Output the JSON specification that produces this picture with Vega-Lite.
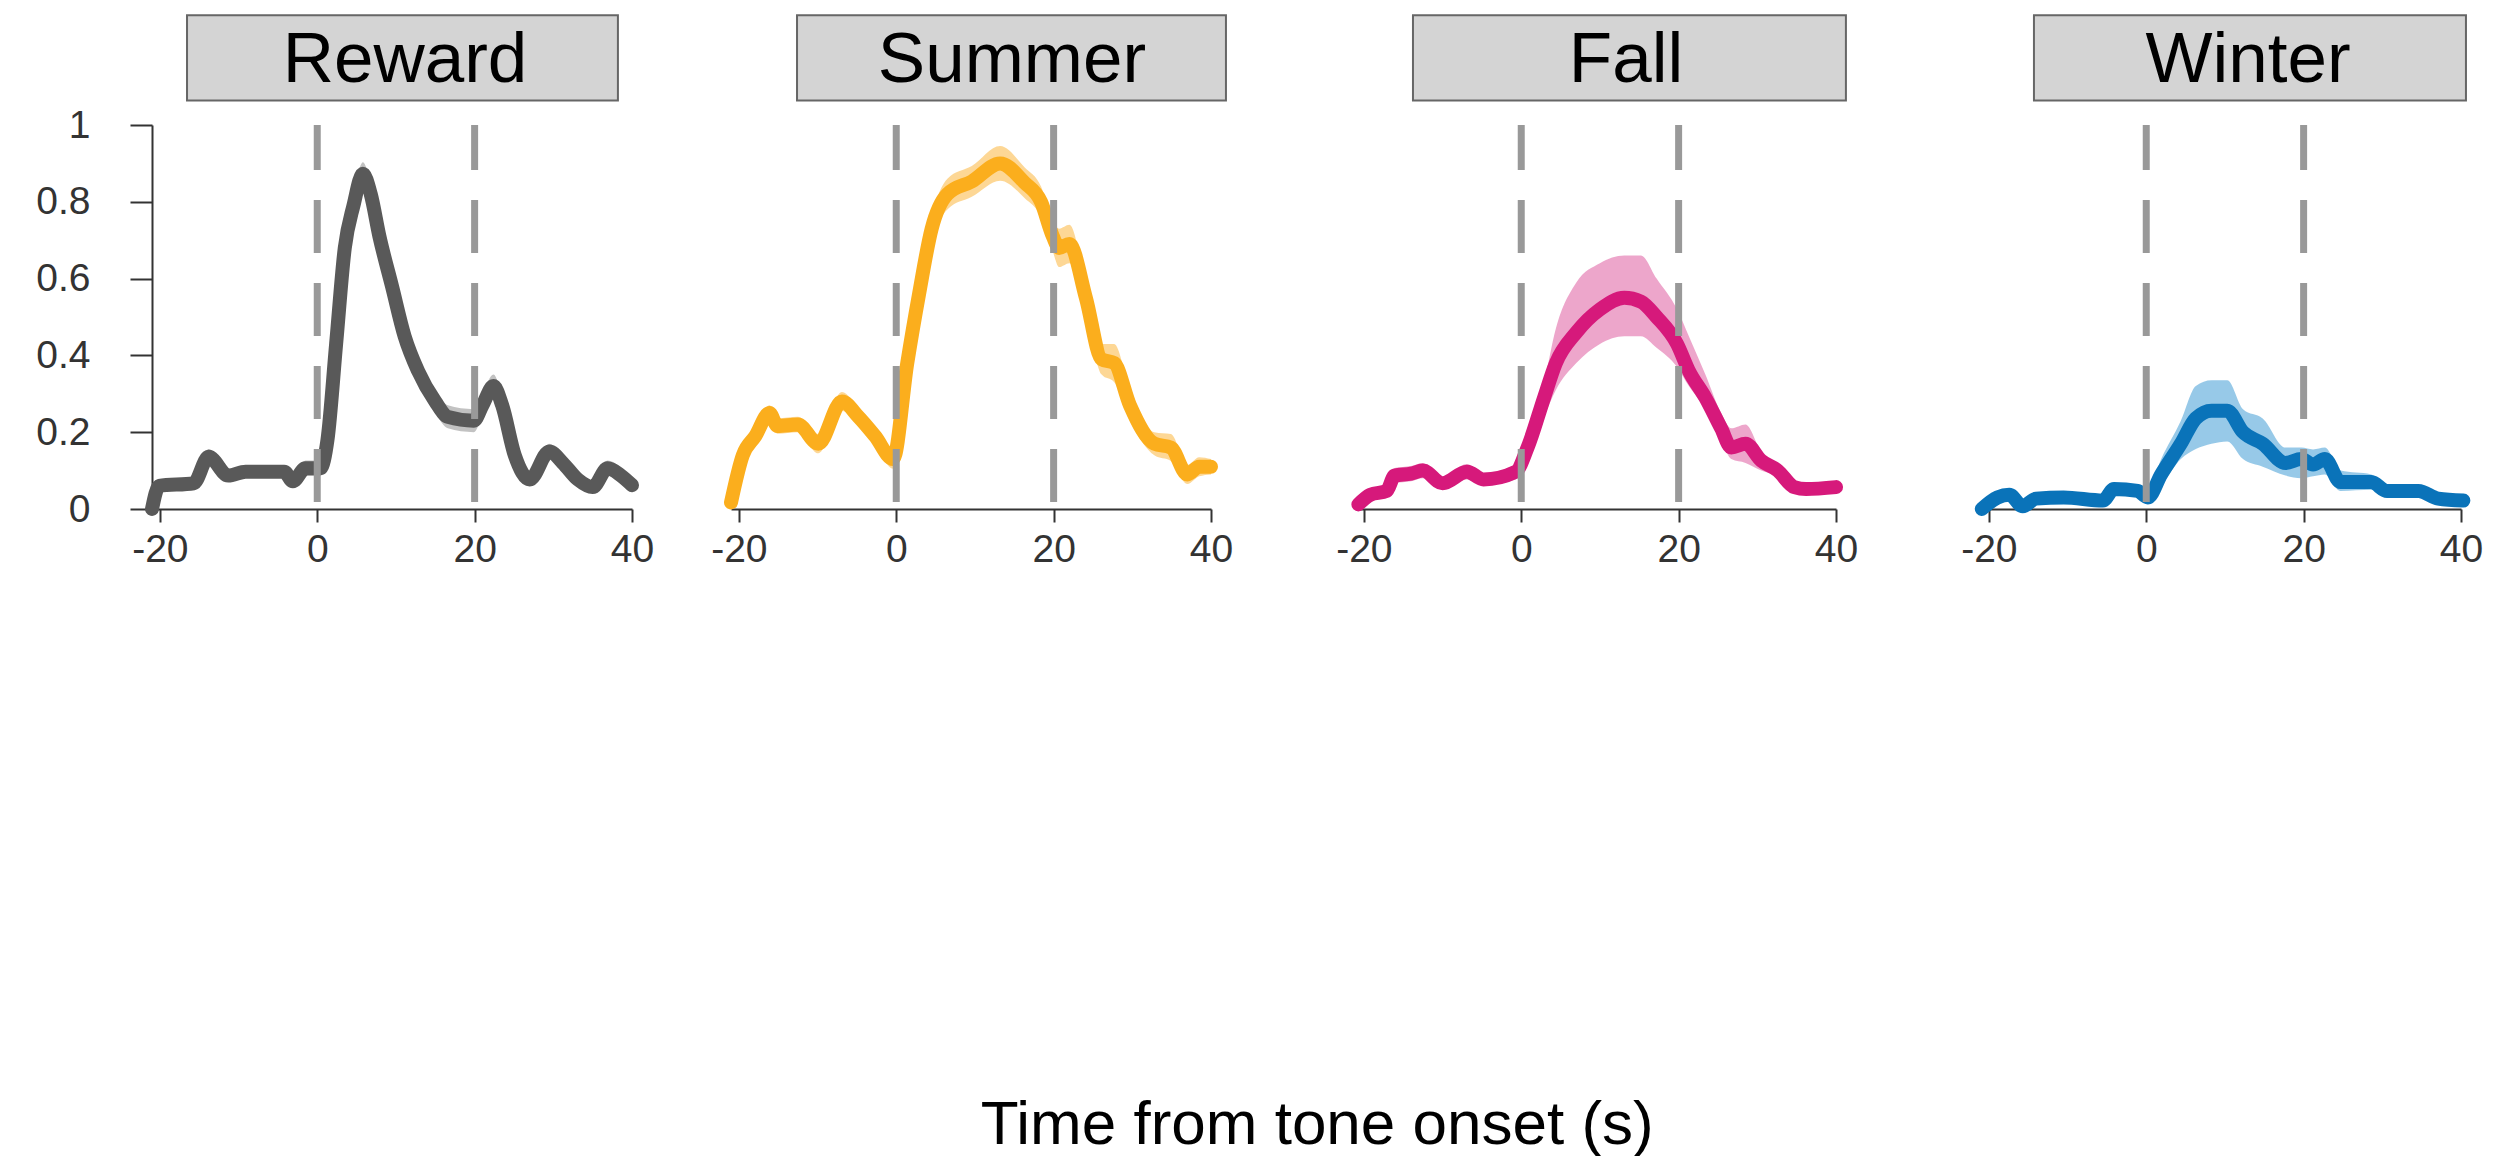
{
  "$schema": "https://vega.github.io/schema/vega-lite/v6.json",
  "background": "white",
  "padding": {"left": 35, "top": 14, "right": 4, "bottom": 0},
  "title": {
    "text": "Time from tone onset (s)",
    "orient": "bottom",
    "anchor": "middle",
    "fontSize": 62,
    "font": "Liberation Sans",
    "fontWeight": "normal",
    "color": "#000000",
    "offset": 526,
    "dx": 58
  },
  "spacing": 99,
  "bounds": "flush",
  "hconcat": [
    {
      "width": 480, "height": 384,
      "data": {"values": [
        {"p":"Reward","t":-21,"v":0,"lo":0,"hi":0.01},
        {"p":"Reward","t":-20.1,"v":0.06,"lo":0.045,"hi":0.075},
        {"p":"Reward","t":-15.7,"v":0.067,"lo":0.052,"hi":0.082},
        {"p":"Reward","t":-13.8,"v":0.136,"lo":0.116,"hi":0.156},
        {"p":"Reward","t":-11.3,"v":0.087,"lo":0.072,"hi":0.102},
        {"p":"Reward","t":-9.1,"v":0.097,"lo":0.082,"hi":0.112},
        {"p":"Reward","t":-4.2,"v":0.097,"lo":0.082,"hi":0.112},
        {"p":"Reward","t":-3.1,"v":0.072,"lo":0.057,"hi":0.087},
        {"p":"Reward","t":-1.5,"v":0.106,"lo":0.086,"hi":0.126},
        {"p":"Reward","t":0.4,"v":0.106,"lo":0.086,"hi":0.126},
        {"p":"Reward","t":1.3,"v":0.18,"lo":0.16,"hi":0.2},
        {"p":"Reward","t":2.4,"v":0.43,"lo":0.41,"hi":0.45},
        {"p":"Reward","t":3.5,"v":0.68,"lo":0.66,"hi":0.7},
        {"p":"Reward","t":4.6,"v":0.79,"lo":0.765,"hi":0.815},
        {"p":"Reward","t":5.8,"v":0.873,"lo":0.843,"hi":0.903},
        {"p":"Reward","t":6.8,"v":0.82,"lo":0.795,"hi":0.845},
        {"p":"Reward","t":7.9,"v":0.71,"lo":0.69,"hi":0.73},
        {"p":"Reward","t":9.5,"v":0.58,"lo":0.56,"hi":0.6},
        {"p":"Reward","t":11.1,"v":0.45,"lo":0.425,"hi":0.475},
        {"p":"Reward","t":12.8,"v":0.36,"lo":0.33,"hi":0.39},
        {"p":"Reward","t":15.0,"v":0.28,"lo":0.25,"hi":0.31},
        {"p":"Reward","t":16.6,"v":0.24,"lo":0.21,"hi":0.27},
        {"p":"Reward","t":19.9,"v":0.23,"lo":0.2,"hi":0.26},
        {"p":"Reward","t":21.0,"v":0.27,"lo":0.24,"hi":0.3},
        {"p":"Reward","t":22.4,"v":0.32,"lo":0.29,"hi":0.35},
        {"p":"Reward","t":23.5,"v":0.27,"lo":0.25,"hi":0.29},
        {"p":"Reward","t":25.1,"v":0.14,"lo":0.12,"hi":0.16},
        {"p":"Reward","t":27.0,"v":0.077,"lo":0.062,"hi":0.092},
        {"p":"Reward","t":29.5,"v":0.15,"lo":0.13,"hi":0.17},
        {"p":"Reward","t":31.2,"v":0.12,"lo":0.105,"hi":0.135},
        {"p":"Reward","t":33.1,"v":0.077,"lo":0.062,"hi":0.092},
        {"p":"Reward","t":35.0,"v":0.057,"lo":0.042,"hi":0.072},
        {"p":"Reward","t":36.9,"v":0.106,"lo":0.086,"hi":0.126},
        {"p":"Reward","t":38.6,"v":0.087,"lo":0.067,"hi":0.107},
        {"p":"Reward","t":40,"v":0.062,"lo":0.047,"hi":0.077}
      ]},
      "layer": [
        {
          "data": {"values": [{"label": "Reward"}]},
          "mark": {"type": "rect", "fill": "#d4d4d4", "stroke": "#666666", "strokeWidth": 2},
          "encoding": {
            "x": {"datum": -16.55, "type": "quantitative", "scale": {"domain": [-21, 40], "nice": false, "zero": false}, "axis": {"values": [-20, 0, 20, 40], "title": null, "labelExpr": "datum.value < 0 ? '-' + abs(datum.value) : '' + datum.value"}},
            "x2": {"datum": 38.21},
            "y": {"datum": 1.2857, "type": "quantitative", "scale": {"domain": [0, 1], "nice": false}, "axis": {"values": [0, 0.2, 0.4, 0.6, 0.8, 1], "format": "~g", "title": null, "tickSize": 22, "labelPadding": 40}},
            "y2": {"datum": 1.0637}
          }
        },
        {
          "data": {"values": [{"label": "Reward"}]},
          "mark": {"type": "text", "fontSize": 71, "font": "Liberation Sans", "baseline": "middle", "align": "center", "color": "#000000"},
          "encoding": {
            "x": {"datum": 11.15, "type": "quantitative", "axis": {"values": [-20, 0, 20, 40], "title": null, "labelExpr": "datum.value < 0 ? '-' + abs(datum.value) : '' + datum.value"}},
            "y": {"datum": 1.166, "type": "quantitative", "axis": {"values": [0, 0.2, 0.4, 0.6, 0.8, 1], "format": "~g", "title": null, "tickSize": 22, "labelPadding": 40}},
            "text": {"field": "label"}
          }
        },
        {
          "mark": {"type": "area", "color": "#9a9a9a", "opacity": 0.6, "interpolate": "monotone"},
          "encoding": {
            "x": {"field": "t", "type": "quantitative", "axis": {"values": [-20, 0, 20, 40], "title": null, "labelExpr": "datum.value < 0 ? '-' + abs(datum.value) : '' + datum.value"}},
            "y": {"field": "lo", "type": "quantitative", "axis": {"values": [0, 0.2, 0.4, 0.6, 0.8, 1], "format": "~g", "title": null, "tickSize": 22, "labelPadding": 40}},
            "y2": {"field": "hi"}
          }
        },
        {
          "mark": {"type": "line", "color": "#595959", "strokeWidth": 14, "strokeCap": "round", "strokeJoin": "round", "interpolate": "monotone"},
          "encoding": {
            "x": {"field": "t", "type": "quantitative", "axis": {"values": [-20, 0, 20, 40], "title": null, "labelExpr": "datum.value < 0 ? '-' + abs(datum.value) : '' + datum.value"}},
            "y": {"field": "v", "type": "quantitative", "axis": {"values": [0, 0.2, 0.4, 0.6, 0.8, 1], "format": "~g", "title": null, "tickSize": 22, "labelPadding": 40}}
          }
        },
        {
          "data": {"values": [{"k": 1}]},
          "mark": {"type": "rule", "color": "#999999", "strokeWidth": 7, "strokeDash": [53, 30], "strokeDashOffset": 8},
          "encoding": {"x": {"datum": 0, "type": "quantitative", "axis": {"values": [-20, 0, 20, 40], "title": null, "labelExpr": "datum.value < 0 ? '-' + abs(datum.value) : '' + datum.value"}}}
        },
        {
          "data": {"values": [{"k": 1}]},
          "mark": {"type": "rule", "color": "#999999", "strokeWidth": 7, "strokeDash": [53, 30], "strokeDashOffset": 8},
          "encoding": {"x": {"datum": 20, "type": "quantitative", "axis": {"values": [-20, 0, 20, 40], "title": null, "labelExpr": "datum.value < 0 ? '-' + abs(datum.value) : '' + datum.value"}}}
        }
      ]
    },
    {
      "spacing": 145,
      "bounds": "flush",
      "hconcat": [
        {
          "width": 480, "height": 384,
          "data": {"values": [
            {"p":"Summer","t":-21,"v":0.017,"lo":0.007,"hi":0.027},
            {"p":"Summer","t":-19.5,"v":0.14,"lo":0.125,"hi":0.155},
            {"p":"Summer","t":-17.9,"v":0.19,"lo":0.175,"hi":0.205},
            {"p":"Summer","t":-16.1,"v":0.25,"lo":0.23,"hi":0.27},
            {"p":"Summer","t":-15.1,"v":0.216,"lo":0.196,"hi":0.236},
            {"p":"Summer","t":-12.5,"v":0.22,"lo":0.2,"hi":0.24},
            {"p":"Summer","t":-9.9,"v":0.17,"lo":0.145,"hi":0.195},
            {"p":"Summer","t":-6.9,"v":0.28,"lo":0.255,"hi":0.305},
            {"p":"Summer","t":-4.8,"v":0.24,"lo":0.22,"hi":0.26},
            {"p":"Summer","t":-2.7,"v":0.19,"lo":0.17,"hi":0.21},
            {"p":"Summer","t":-0.4,"v":0.13,"lo":0.105,"hi":0.155},
            {"p":"Summer","t":1.4,"v":0.38,"lo":0.36,"hi":0.4},
            {"p":"Summer","t":2.9,"v":0.56,"lo":0.54,"hi":0.58},
            {"p":"Summer","t":4.5,"v":0.73,"lo":0.7,"hi":0.76},
            {"p":"Summer","t":6.5,"v":0.82,"lo":0.78,"hi":0.86},
            {"p":"Summer","t":9.6,"v":0.853,"lo":0.813,"hi":0.893},
            {"p":"Summer","t":13.2,"v":0.9,"lo":0.855,"hi":0.945},
            {"p":"Summer","t":16.3,"v":0.85,"lo":0.81,"hi":0.89},
            {"p":"Summer","t":18.4,"v":0.8,"lo":0.76,"hi":0.84},
            {"p":"Summer","t":19.9,"v":0.71,"lo":0.67,"hi":0.75},
            {"p":"Summer","t":20.7,"v":0.68,"lo":0.63,"hi":0.73},
            {"p":"Summer","t":22.0,"v":0.69,"lo":0.64,"hi":0.74},
            {"p":"Summer","t":24.1,"v":0.55,"lo":0.51,"hi":0.59},
            {"p":"Summer","t":26.1,"v":0.39,"lo":0.35,"hi":0.43},
            {"p":"Summer","t":27.7,"v":0.38,"lo":0.33,"hi":0.43},
            {"p":"Summer","t":29.7,"v":0.27,"lo":0.23,"hi":0.31},
            {"p":"Summer","t":32.8,"v":0.17,"lo":0.14,"hi":0.2},
            {"p":"Summer","t":34.9,"v":0.16,"lo":0.125,"hi":0.195},
            {"p":"Summer","t":37.0,"v":0.09,"lo":0.065,"hi":0.115},
            {"p":"Summer","t":38.5,"v":0.11,"lo":0.085,"hi":0.135},
            {"p":"Summer","t":40.0,"v":0.11,"lo":0.09,"hi":0.13}
          ]},
          "layer": [
            {
              "data": {"values": [{"label": "Summer"}]},
              "mark": {"type": "rect", "fill": "#d4d4d4", "stroke": "#666666", "strokeWidth": 2},
              "encoding": {
                "x": {"datum": -12.61, "type": "quantitative", "scale": {"domain": [-21, 40], "nice": false, "zero": false}, "axis": {"values": [-20, 0, 20, 40], "title": null, "labelExpr": "datum.value < 0 ? '-' + abs(datum.value) : '' + datum.value"}},
                "x2": {"datum": 41.9},
                "y": {"datum": 1.2857, "type": "quantitative", "scale": {"domain": [0, 1], "nice": false}, "axis": null},
                "y2": {"datum": 1.0637}
              }
            },
            {
              "data": {"values": [{"label": "Summer"}]},
              "mark": {"type": "text", "fontSize": 71, "font": "Liberation Sans", "baseline": "middle", "align": "center", "color": "#000000"},
              "encoding": {
                "x": {"datum": 14.7, "type": "quantitative", "axis": {"values": [-20, 0, 20, 40], "title": null, "labelExpr": "datum.value < 0 ? '-' + abs(datum.value) : '' + datum.value"}},
                "y": {"datum": 1.166, "type": "quantitative", "axis": null},
                "text": {"field": "label"}
              }
            },
            {
              "mark": {"type": "area", "color": "#fdd38a", "opacity": 0.9, "interpolate": "monotone"},
              "encoding": {
                "x": {"field": "t", "type": "quantitative", "axis": {"values": [-20, 0, 20, 40], "title": null, "labelExpr": "datum.value < 0 ? '-' + abs(datum.value) : '' + datum.value"}},
                "y": {"field": "lo", "type": "quantitative", "axis": null},
                "y2": {"field": "hi"}
              }
            },
            {
              "mark": {"type": "line", "color": "#fbae1d", "strokeWidth": 14, "strokeCap": "round", "strokeJoin": "round", "interpolate": "monotone"},
              "encoding": {
                "x": {"field": "t", "type": "quantitative", "axis": {"values": [-20, 0, 20, 40], "title": null, "labelExpr": "datum.value < 0 ? '-' + abs(datum.value) : '' + datum.value"}},
                "y": {"field": "v", "type": "quantitative", "axis": null}
              }
            },
            {
              "data": {"values": [{"k": 1}]},
              "mark": {"type": "rule", "color": "#999999", "strokeWidth": 7, "strokeDash": [53, 30], "strokeDashOffset": 8},
              "encoding": {"x": {"datum": 0, "type": "quantitative", "axis": {"values": [-20, 0, 20, 40], "title": null, "labelExpr": "datum.value < 0 ? '-' + abs(datum.value) : '' + datum.value"}}}
            },
            {
              "data": {"values": [{"k": 1}]},
              "mark": {"type": "rule", "color": "#999999", "strokeWidth": 7, "strokeDash": [53, 30], "strokeDashOffset": 8},
              "encoding": {"x": {"datum": 20, "type": "quantitative", "axis": {"values": [-20, 0, 20, 40], "title": null, "labelExpr": "datum.value < 0 ? '-' + abs(datum.value) : '' + datum.value"}}}
            }
          ]
        },
        {
          "width": 480, "height": 384,
          "data": {"values": [
            {"p":"Fall","t":-20.7,"v":0.012,"lo":0.002,"hi":0.022},
            {"p":"Fall","t":-19.2,"v":0.037,"lo":0.022,"hi":0.052},
            {"p":"Fall","t":-17.1,"v":0.047,"lo":0.032,"hi":0.062},
            {"p":"Fall","t":-16.1,"v":0.087,"lo":0.067,"hi":0.107},
            {"p":"Fall","t":-14.0,"v":0.092,"lo":0.072,"hi":0.112},
            {"p":"Fall","t":-12.5,"v":0.1,"lo":0.08,"hi":0.12},
            {"p":"Fall","t":-10.0,"v":0.067,"lo":0.052,"hi":0.082},
            {"p":"Fall","t":-6.9,"v":0.097,"lo":0.077,"hi":0.117},
            {"p":"Fall","t":-4.8,"v":0.077,"lo":0.062,"hi":0.092},
            {"p":"Fall","t":-0.7,"v":0.097,"lo":0.077,"hi":0.117},
            {"p":"Fall","t":0.8,"v":0.16,"lo":0.13,"hi":0.19},
            {"p":"Fall","t":2.9,"v":0.29,"lo":0.24,"hi":0.33},
            {"p":"Fall","t":4.4,"v":0.38,"lo":0.31,"hi":0.47},
            {"p":"Fall","t":7.0,"v":0.46,"lo":0.38,"hi":0.59},
            {"p":"Fall","t":10.0,"v":0.52,"lo":0.43,"hi":0.64},
            {"p":"Fall","t":13.1,"v":0.55,"lo":0.45,"hi":0.66},
            {"p":"Fall","t":15.2,"v":0.54,"lo":0.45,"hi":0.66},
            {"p":"Fall","t":17.2,"v":0.5,"lo":0.42,"hi":0.6},
            {"p":"Fall","t":19.8,"v":0.43,"lo":0.37,"hi":0.52},
            {"p":"Fall","t":21.3,"v":0.36,"lo":0.32,"hi":0.45},
            {"p":"Fall","t":23.4,"v":0.29,"lo":0.26,"hi":0.35},
            {"p":"Fall","t":25.4,"v":0.21,"lo":0.18,"hi":0.25},
            {"p":"Fall","t":26.7,"v":0.16,"lo":0.13,"hi":0.21},
            {"p":"Fall","t":28.5,"v":0.17,"lo":0.12,"hi":0.22},
            {"p":"Fall","t":30.5,"v":0.126,"lo":0.1,"hi":0.15},
            {"p":"Fall","t":32.6,"v":0.1,"lo":0.085,"hi":0.115},
            {"p":"Fall","t":34.7,"v":0.057,"lo":0.047,"hi":0.067},
            {"p":"Fall","t":36.2,"v":0.052,"lo":0.042,"hi":0.062},
            {"p":"Fall","t":40,"v":0.057,"lo":0.047,"hi":0.067}
          ]},
          "layer": [
            {
              "data": {"values": [{"label": "Fall"}]},
              "mark": {"type": "rect", "fill": "#d4d4d4", "stroke": "#666666", "strokeWidth": 2},
              "encoding": {
                "x": {"datum": -13.76, "type": "quantitative", "scale": {"domain": [-21, 40], "nice": false, "zero": false}, "axis": {"values": [-20, 0, 20, 40], "title": null, "labelExpr": "datum.value < 0 ? '-' + abs(datum.value) : '' + datum.value"}},
                "x2": {"datum": 41.26},
                "y": {"datum": 1.2857, "type": "quantitative", "scale": {"domain": [0, 1], "nice": false}, "axis": null},
                "y2": {"datum": 1.0637}
              }
            },
            {
              "data": {"values": [{"label": "Fall"}]},
              "mark": {"type": "text", "fontSize": 71, "font": "Liberation Sans", "baseline": "middle", "align": "center", "color": "#000000"},
              "encoding": {
                "x": {"datum": 13.31, "type": "quantitative", "axis": {"values": [-20, 0, 20, 40], "title": null, "labelExpr": "datum.value < 0 ? '-' + abs(datum.value) : '' + datum.value"}},
                "y": {"datum": 1.166, "type": "quantitative", "axis": null},
                "text": {"field": "label"}
              }
            },
            {
              "mark": {"type": "area", "color": "#eb9cc5", "opacity": 0.9, "interpolate": "monotone"},
              "encoding": {
                "x": {"field": "t", "type": "quantitative", "axis": {"values": [-20, 0, 20, 40], "title": null, "labelExpr": "datum.value < 0 ? '-' + abs(datum.value) : '' + datum.value"}},
                "y": {"field": "lo", "type": "quantitative", "axis": null},
                "y2": {"field": "hi"}
              }
            },
            {
              "mark": {"type": "line", "color": "#d6197b", "strokeWidth": 14, "strokeCap": "round", "strokeJoin": "round", "interpolate": "monotone"},
              "encoding": {
                "x": {"field": "t", "type": "quantitative", "axis": {"values": [-20, 0, 20, 40], "title": null, "labelExpr": "datum.value < 0 ? '-' + abs(datum.value) : '' + datum.value"}},
                "y": {"field": "v", "type": "quantitative", "axis": null}
              }
            },
            {
              "data": {"values": [{"k": 1}]},
              "mark": {"type": "rule", "color": "#999999", "strokeWidth": 7, "strokeDash": [53, 30], "strokeDashOffset": 8},
              "encoding": {"x": {"datum": 0, "type": "quantitative", "axis": {"values": [-20, 0, 20, 40], "title": null, "labelExpr": "datum.value < 0 ? '-' + abs(datum.value) : '' + datum.value"}}}
            },
            {
              "data": {"values": [{"k": 1}]},
              "mark": {"type": "rule", "color": "#999999", "strokeWidth": 7, "strokeDash": [53, 30], "strokeDashOffset": 8},
              "encoding": {"x": {"datum": 20, "type": "quantitative", "axis": {"values": [-20, 0, 20, 40], "title": null, "labelExpr": "datum.value < 0 ? '-' + abs(datum.value) : '' + datum.value"}}}
            }
          ]
        },
        {
          "width": 480, "height": 384,
          "data": {"values": [
            {"p":"Winter","t":-20.9,"v":0.0,"lo":-0.01,"hi":0.01},
            {"p":"Winter","t":-18.9,"v":0.03,"lo":0.02,"hi":0.04},
            {"p":"Winter","t":-17.4,"v":0.037,"lo":0.027,"hi":0.047},
            {"p":"Winter","t":-15.7,"v":0.007,"lo":-0.003,"hi":0.017},
            {"p":"Winter","t":-14.0,"v":0.027,"lo":0.017,"hi":0.037},
            {"p":"Winter","t":-10.5,"v":0.03,"lo":0.02,"hi":0.04},
            {"p":"Winter","t":-5.5,"v":0.022,"lo":0.012,"hi":0.032},
            {"p":"Winter","t":-4.1,"v":0.052,"lo":0.042,"hi":0.062},
            {"p":"Winter","t":-1.1,"v":0.047,"lo":0.037,"hi":0.057},
            {"p":"Winter","t":0.2,"v":0.03,"lo":0.015,"hi":0.045},
            {"p":"Winter","t":1.9,"v":0.09,"lo":0.06,"hi":0.13},
            {"p":"Winter","t":4.4,"v":0.17,"lo":0.13,"hi":0.23},
            {"p":"Winter","t":6.3,"v":0.236,"lo":0.156,"hi":0.32},
            {"p":"Winter","t":8.3,"v":0.256,"lo":0.17,"hi":0.335},
            {"p":"Winter","t":10.3,"v":0.256,"lo":0.176,"hi":0.335},
            {"p":"Winter","t":12.3,"v":0.2,"lo":0.13,"hi":0.26},
            {"p":"Winter","t":14.8,"v":0.17,"lo":0.11,"hi":0.236},
            {"p":"Winter","t":17.7,"v":0.12,"lo":0.087,"hi":0.16},
            {"p":"Winter","t":19.7,"v":0.13,"lo":0.08,"hi":0.16},
            {"p":"Winter","t":21.2,"v":0.116,"lo":0.085,"hi":0.155},
            {"p":"Winter","t":22.7,"v":0.13,"lo":0.09,"hi":0.16},
            {"p":"Winter","t":24.7,"v":0.07,"lo":0.047,"hi":0.1},
            {"p":"Winter","t":28.6,"v":0.07,"lo":0.05,"hi":0.09},
            {"p":"Winter","t":30.6,"v":0.047,"lo":0.032,"hi":0.062},
            {"p":"Winter","t":34.6,"v":0.047,"lo":0.032,"hi":0.062},
            {"p":"Winter","t":37.1,"v":0.027,"lo":0.017,"hi":0.037},
            {"p":"Winter","t":40.3,"v":0.022,"lo":0.012,"hi":0.032}
          ]},
          "layer": [
            {
              "data": {"values": [{"label": "Winter"}]},
              "mark": {"type": "rect", "fill": "#d4d4d4", "stroke": "#666666", "strokeWidth": 2},
              "encoding": {
                "x": {"datum": -14.27, "type": "quantitative", "scale": {"domain": [-21, 40], "nice": false, "zero": false}, "axis": {"values": [-20, 0, 20, 40], "title": null, "labelExpr": "datum.value < 0 ? '-' + abs(datum.value) : '' + datum.value"}},
                "x2": {"datum": 40.63},
                "y": {"datum": 1.2857, "type": "quantitative", "scale": {"domain": [0, 1], "nice": false}, "axis": null},
                "y2": {"datum": 1.0637}
              }
            },
            {
              "data": {"values": [{"label": "Winter"}]},
              "mark": {"type": "text", "fontSize": 71, "font": "Liberation Sans", "baseline": "middle", "align": "center", "color": "#000000"},
              "encoding": {
                "x": {"datum": 12.93, "type": "quantitative", "axis": {"values": [-20, 0, 20, 40], "title": null, "labelExpr": "datum.value < 0 ? '-' + abs(datum.value) : '' + datum.value"}},
                "y": {"datum": 1.166, "type": "quantitative", "axis": null},
                "text": {"field": "label"}
              }
            },
            {
              "mark": {"type": "area", "color": "#8cc3e5", "opacity": 0.9, "interpolate": "monotone"},
              "encoding": {
                "x": {"field": "t", "type": "quantitative", "axis": {"values": [-20, 0, 20, 40], "title": null, "labelExpr": "datum.value < 0 ? '-' + abs(datum.value) : '' + datum.value"}},
                "y": {"field": "lo", "type": "quantitative", "axis": null},
                "y2": {"field": "hi"}
              }
            },
            {
              "mark": {"type": "line", "color": "#0a73b9", "strokeWidth": 14, "strokeCap": "round", "strokeJoin": "round", "interpolate": "monotone"},
              "encoding": {
                "x": {"field": "t", "type": "quantitative", "axis": {"values": [-20, 0, 20, 40], "title": null, "labelExpr": "datum.value < 0 ? '-' + abs(datum.value) : '' + datum.value"}},
                "y": {"field": "v", "type": "quantitative", "axis": null}
              }
            },
            {
              "data": {"values": [{"k": 1}]},
              "mark": {"type": "rule", "color": "#999999", "strokeWidth": 7, "strokeDash": [53, 30], "strokeDashOffset": 8},
              "encoding": {"x": {"datum": 0, "type": "quantitative", "axis": {"values": [-20, 0, 20, 40], "title": null, "labelExpr": "datum.value < 0 ? '-' + abs(datum.value) : '' + datum.value"}}}
            },
            {
              "data": {"values": [{"k": 1}]},
              "mark": {"type": "rule", "color": "#999999", "strokeWidth": 7, "strokeDash": [53, 30], "strokeDashOffset": 8},
              "encoding": {"x": {"datum": 20, "type": "quantitative", "axis": {"values": [-20, 0, 20, 40], "title": null, "labelExpr": "datum.value < 0 ? '-' + abs(datum.value) : '' + datum.value"}}}
            }
          ]
        }
      ]
    }
  ],
  "config": {
    "view": {"stroke": null},
    "font": "Liberation Sans",
    "axis": {
      "grid": false,
      "domainColor": "#333333",
      "domainWidth": 2,
      "tickColor": "#333333",
      "tickWidth": 2,
      "labelFontSize": 39,
      "labelColor": "#333333",
      "labelFont": "Liberation Sans",
      "labelFlush": false,
      "labelOverlap": false
    },
    "axisX": {"tickSize": 13, "labelPadding": 8}
  }
}
